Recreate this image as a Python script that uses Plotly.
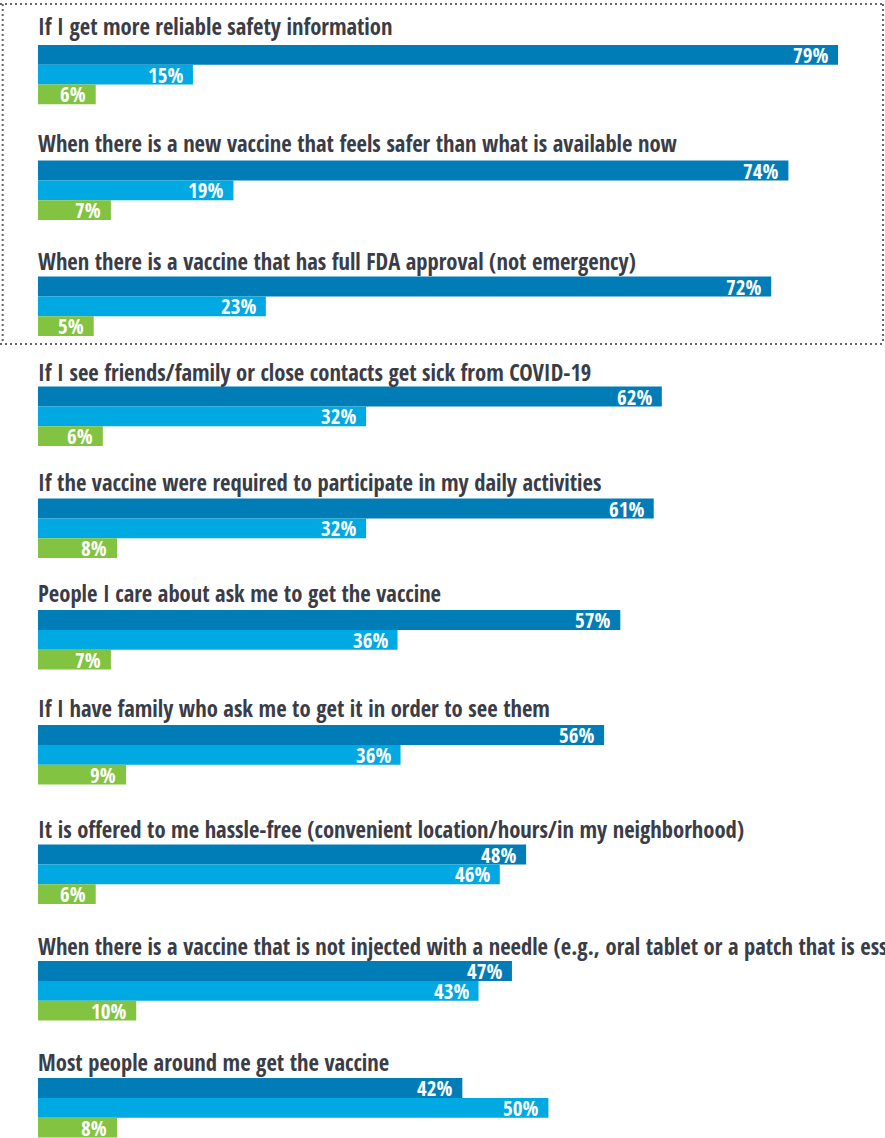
import plotly.graph_objects as go

# ---------------- data ----------------
questions = [
    "If I get more reliable safety information",
    "When there is a new vaccine that feels safer than what is available now",
    "When there is a vaccine that has full FDA approval (not emergency)",
    "If I see friends/family or close contacts get sick from COVID-19",
    "If the vaccine were required to participate in my daily activities",
    "People I care about ask me to get the vaccine",
    "If I have family who ask me to get it in order to see them",
    "It is offered to me hassle-free (convenient location/hours/in my neighborhood)",
    "When there is a vaccine that is not injected with a needle (e.g., oral tablet or a patch that is essentially painless)",
    "Most people around me get the vaccine",
]
# printed (rounded) percentages
more_likely = [79, 74, 72, 62, 61, 57, 56, 48, 47, 42]
no_difference = [15, 19, 23, 32, 32, 36, 36, 46, 43, 50]
less_likely = [6, 7, 5, 6, 8, 7, 9, 6, 10, 8]
# bar lengths (unrounded shares)
more_likely_bar = [79.0, 74.1, 72.4, 61.6, 60.8, 57.5, 55.9, 48.2, 46.8, 41.9]
no_difference_bar = [15.3, 19.3, 22.5, 32.4, 32.4, 35.5, 35.8, 45.6, 43.5, 50.4]
less_likely_bar = [5.7, 7.2, 5.5, 6.4, 7.8, 7.2, 8.7, 5.7, 9.7, 7.8]

series_names = ["More likely", "No difference", "Less likely"]

# ---------------- layout constants ----------------
W, H = 885, 1138
X0 = 38.0           # left edge of bars in px
PX_PER_PCT = 10.127  # px per percent
BAR_H = 19.8
group_first_center = [54.8, 170.5, 286.5, 396.5, 508.5, 620.0, 735.0, 854.5, 971.0, 1088.0]
title_centers = [26, 143, 261, 372, 482, 593, 708, 829, 946, 1062]
colors = ["#007DB6", "#00A9E1", "#82C341"]
title_color = "#3A3D47"
FONT = "Open Sans Condensed, Roboto Condensed, Liberation Sans Narrow, Arial Narrow, Open Sans, sans-serif"

fig = go.Figure()
all_series = [(more_likely_bar, more_likely), (no_difference_bar, no_difference),
              (less_likely_bar, less_likely)]
annotations = []
for k, ((bars, labels), col, name) in enumerate(zip(all_series, colors, series_names)):
    ys = [c + k * BAR_H for c in group_first_center]
    fig.add_trace(go.Bar(
        orientation="h", x=bars, y=ys, base=0, width=BAR_H,
        marker=dict(color=col, line=dict(width=0)), name=name,
        showlegend=False, hoverinfo="x",
    ))
    for b, v, y in zip(bars, labels, ys):
        annotations.append(dict(
            x=b, y=y, xref="x", yref="y", text=f"{v}%", showarrow=False,
            xanchor="right", yanchor="middle", xshift=-8,
            font=dict(family=FONT, size=21, color="white", weight="bold"),
        ))

for q, ty in zip(questions, title_centers):
    annotations.append(dict(
        x=36 / W, y=ty, xref="paper", yref="y", text=q,
        showarrow=False, xanchor="left", yanchor="middle",
        font=dict(family=FONT, size=22.6, color=title_color, weight="bold"),
    ))

fig.update_layout(
    width=W, height=H, margin=dict(l=0, r=0, t=0, b=0),
    paper_bgcolor="white", plot_bgcolor="white",
    barmode="overlay",
    xaxis=dict(range=[-X0 / PX_PER_PCT, (W - X0) / PX_PER_PCT], visible=False, fixedrange=True),
    yaxis=dict(range=[H, 0], visible=False, fixedrange=True),
    annotations=annotations,
    shapes=[
        dict(type="line", xref="paper", yref="y", x0=0, x1=1, y0=4, y1=4,
             line=dict(color="#666", width=2, dash="2px,3px")),
        dict(type="line", xref="paper", yref="y", x0=0, x1=1, y0=344, y1=344,
             line=dict(color="#666", width=2, dash="2px,3px")),
        dict(type="line", xref="paper", yref="y", x0=2.7 / W, x1=2.7 / W, y0=4, y1=344,
             line=dict(color="#666", width=2, dash="2px,3px")),
        dict(type="line", xref="paper", yref="y", x0=883 / W, x1=883 / W, y0=4, y1=344,
             line=dict(color="#666", width=2, dash="2px,3px")),
    ],
)

fig.write_html("out.html")
